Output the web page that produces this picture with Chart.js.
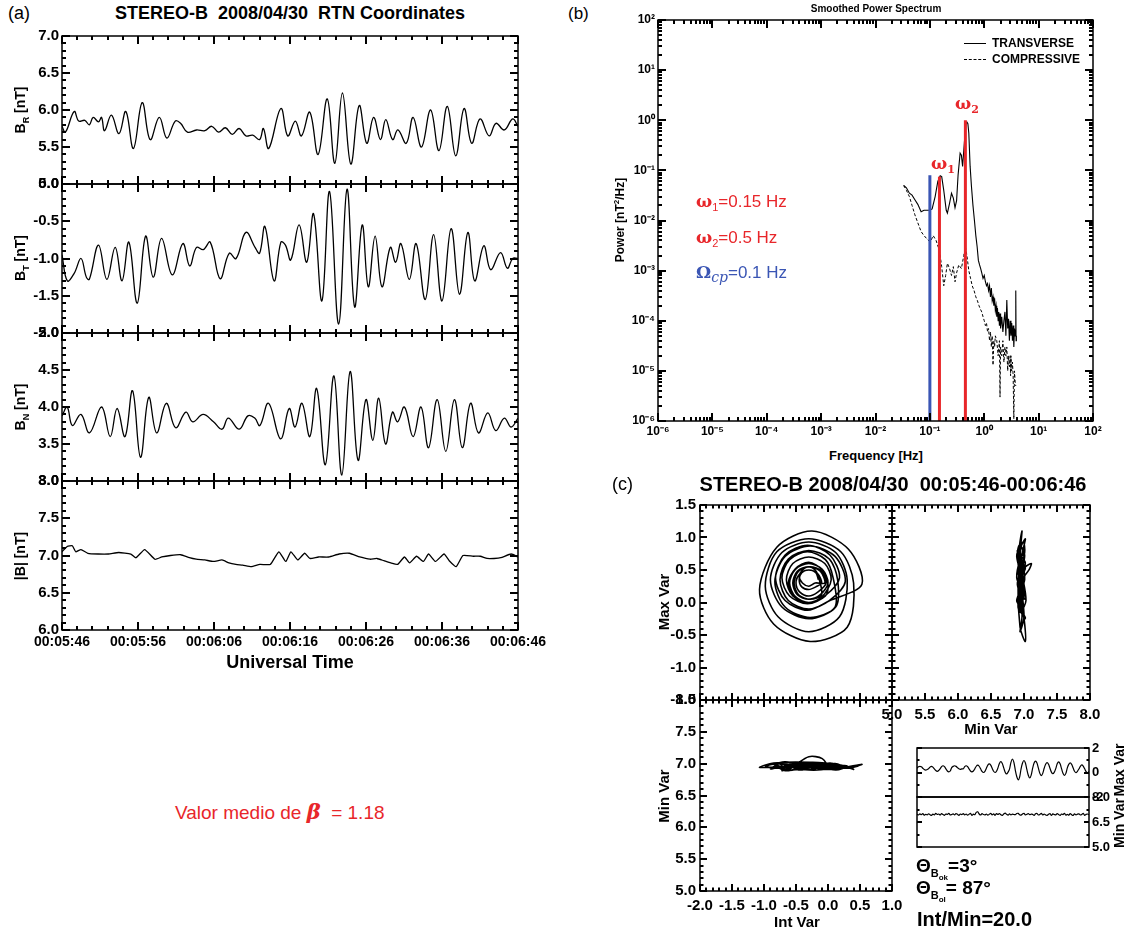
<!DOCTYPE html>
<html>
<head>
<meta charset="utf-8">
<script src="https://cdn.jsdelivr.net/npm/chart.js@4.4.1/dist/chart.umd.min.js"></script>
<style>
  body { margin: 0; background: #fff; }
  #page { position: relative; width: 1128px; height: 932px; overflow: hidden; background: #fff; font-family: "Liberation Sans", Arial, Helvetica, sans-serif; color: #000; }
  canvas { position: absolute; }
  .t { position: absolute; white-space: nowrap; transform: translate(-50%, -50%); line-height: 1; }
  .l { position: absolute; white-space: nowrap; transform: translate(0, -50%); line-height: 1; }
  .r { position: absolute; white-space: nowrap; transform: translate(-50%, -50%) rotate(-90deg); line-height: 1; font-weight: bold; }
  .b { font-weight: bold; }
  sub, sup { line-height: 0; }
</style>
</head>
<body>
<div id="page">
  <canvas id="cBR"></canvas>
  <canvas id="cBT"></canvas>
  <canvas id="cBN"></canvas>
  <canvas id="cB"></canvas>
  <canvas id="cPSD"></canvas>
  <canvas id="cTL"></canvas>
  <canvas id="cTR"></canvas>
  <canvas id="cBL"></canvas>
  <canvas id="cInMax"></canvas>
  <canvas id="cInMin"></canvas>

  <!-- (a) -->
  <div class="l" style="left:8px;top:13px;font-size:18px;">(a)</div>
  <div class="t b" style="left:290px;top:13px;font-size:18px;">STEREO-B&nbsp; 2008/04/30&nbsp; RTN Coordinates</div>
  <div class="r" style="left:20px;top:110px;font-size:14px;">B<sub style="font-size:9px">R</sub> [nT]</div>
  <div class="r" style="left:20px;top:258px;font-size:14px;">B<sub style="font-size:9px">T</sub> [nT]</div>
  <div class="r" style="left:20px;top:407px;font-size:14px;">B<sub style="font-size:9px">N</sub> [nT]</div>
  <div class="r" style="left:20px;top:556px;font-size:14px;">|B| [nT]</div>
  <div class="t b" style="left:290px;top:662px;font-size:18px;">Universal Time</div>
  <div class="l" style="left:175px;top:811px;font-size:19px;color:#e8262a;">Valor medio de <b style="font-family:'DejaVu Serif',serif;font-style:italic;font-size:21px;">β</b>&nbsp; = 1.18</div>

  <!-- (b) -->
  <div class="l" style="left:568px;top:13px;font-size:17px;">(b)</div>
  <div class="t b" style="left:876px;top:9px;font-size:10px;">Smoothed Power Spectrum</div>
  <div class="r" style="left:620px;top:220px;font-size:12px;">Power [nT<sup style="font-size:8px">2</sup>/Hz]</div>
  <div class="t b" style="left:876px;top:455px;font-size:13px;">Frequency [Hz]</div>
  <div style="position:absolute;left:964px;top:43px;width:22px;border-top:1px solid #000;"></div>
  <div class="l b" style="left:992px;top:43px;font-size:12px;">TRANSVERSE</div>
  <div style="position:absolute;left:964px;top:59px;width:22px;border-top:1px dashed #000;"></div>
  <div class="l b" style="left:992px;top:59px;font-size:12px;">COMPRESSIVE</div>
  <div class="t b" style="left:943px;top:163px;font-size:17px;color:#e8262a;font-family:'DejaVu Serif',serif;">ω<sub style="font-size:11px">1</sub></div>
  <div class="t b" style="left:967px;top:103px;font-size:17px;color:#e8262a;font-family:'DejaVu Serif',serif;">ω<sub style="font-size:11px">2</sub></div>
  <div class="l" style="left:696px;top:201px;font-size:17px;color:#e8262a;"><b style="font-family:'DejaVu Serif',serif;">ω</b><sub style="font-size:11px">1</sub>=0.15 Hz</div>
  <div class="l" style="left:696px;top:237px;font-size:17px;color:#e8262a;"><b style="font-family:'DejaVu Serif',serif;">ω</b><sub style="font-size:11px">2</sub>=0.5 Hz</div>
  <div class="l" style="left:696px;top:272px;font-size:17px;color:#3a55b4;"><b style="font-family:'DejaVu Serif',serif;">Ω</b><i style="font-family:'DejaVu Serif',serif;font-size:14px;position:relative;top:4px;">cp</i>=0.1 Hz</div>

  <!-- (c) -->
  <div class="l" style="left:612px;top:484px;font-size:18px;">(c)</div>
  <div class="t b" style="left:893px;top:484px;font-size:20px;">STEREO-B 2008/04/30&nbsp; 00:05:46-00:06:46</div>
  <div class="r" style="left:663px;top:602px;font-size:15px;">Max Var</div>
  <div class="r" style="left:663px;top:796px;font-size:15px;">Min Var</div>
  <div class="t b" style="left:797px;top:921px;font-size:15px;">Int Var</div>
  <div class="t b" style="left:991px;top:728px;font-size:15px;">Min Var</div>
  <div class="r" style="left:1119px;top:770px;font-size:14px;">Max Var</div>
  <div class="r" style="left:1119px;top:823px;font-size:14px;">Min Var</div>
  <div class="l b" style="left:916px;top:867px;font-size:19px;">Θ<sub style="font-size:11px">B<sub style="font-size:8px">ok</sub></sub>=3°</div>
  <div class="l b" style="left:916px;top:889px;font-size:19px;">Θ<sub style="font-size:11px">B<sub style="font-size:8px">ol</sub></sub>= 87°</div>
  <div class="l b" style="left:917px;top:919px;font-size:20px;">Int/Min=20.0</div>
</div>

<script>
// ---- panel (a): time in seconds after 00:05:46, field in nT ----
const tBR = [0, 0.45, 1.6, 2.2, 3.0, 3.6, 4.1, 4.8, 5.2, 5.6, 6.5, 7.5, 8.4, 9.4, 10.55, 11.6, 12.8, 13.8, 14.9, 15.6, 16.5, 17.7, 18.8, 19.7, 20.6, 21.5, 22.4, 23.3, 24.2, 25.1, 26.0, 26.5, 27.2, 28.8, 29.7, 30.7, 31.5, 32.6, 33.7, 34.9, 35.9, 36.9, 38.0, 39.1, 40.1, 41.0, 41.9, 42.6, 43.5, 44.2, 45.3, 46.2, 47.3, 48.5, 49.6, 50.7, 51.8, 52.9, 53.9, 55.0, 56.2, 57.1, 58.2, 59.3, 60];
const vBR = [5.78, 5.70, 5.98, 5.85, 5.86, 5.80, 5.90, 5.84, 5.90, 5.72, 5.93, 5.68, 5.98, 5.48, 6.10, 5.60, 5.90, 5.62, 5.85, 5.82, 5.70, 5.73, 5.72, 5.78, 5.70, 5.76, 5.67, 5.75, 5.65, 5.66, 5.60, 5.75, 5.48, 6.02, 5.65, 5.85, 5.65, 5.97, 5.40, 6.15, 5.28, 6.23, 5.27, 6.06, 5.55, 5.90, 5.60, 5.87, 5.60, 5.73, 5.55, 5.90, 5.50, 6.00, 5.45, 6.05, 5.38, 6.02, 5.55, 5.88, 5.65, 5.82, 5.73, 5.88, 5.78];

const tBT = [0, 0.7, 1.6, 2.5, 3.2, 3.6, 4.8, 5.9, 7.0, 7.9, 8.8, 9.9, 11.0, 12.0, 13.1, 14.5, 15.9, 16.8, 17.7, 18.6, 19.5, 20.8, 22.0, 22.9, 24.2, 25.4, 26.0, 26.7, 27.9, 28.8, 29.4, 30.1, 31.2, 32.2, 33.1, 34.2, 35.2, 36.4, 37.5, 38.5, 39.5, 40.3, 41.2, 42.1, 43.2, 43.9, 44.6, 45.7, 46.6, 47.8, 48.9, 50.0, 51.2, 52.3, 53.4, 54.3, 55.5, 56.4, 57.7, 58.6, 59.3, 60];
const vBT = [-0.95, -1.30, -1.20, -1.00, -1.25, -1.28, -0.82, -1.28, -0.85, -1.30, -0.78, -1.60, -0.70, -1.25, -0.73, -1.22, -0.80, -1.10, -0.85, -0.88, -0.78, -1.27, -0.93, -1.00, -0.65, -0.85, -0.93, -0.57, -1.30, -0.78, -0.82, -1.02, -0.55, -1.05, -0.40, -1.57, -0.10, -1.88, -0.07, -1.65, -0.55, -1.38, -0.70, -1.38, -0.85, -1.05, -0.80, -1.28, -0.80, -1.55, -0.68, -1.57, -0.60, -1.48, -0.65, -1.30, -0.83, -1.15, -0.92, -1.13, -1.00, -1.00];

const tBN = [0, 0.68, 1.36, 2.49, 3.62, 5.21, 6.34, 7.25, 8.29, 9.28, 10.33, 11.41, 12.45, 13.72, 14.95, 16.30, 17.21, 18.57, 19.93, 21.06, 21.88, 23.32, 24.46, 25.36, 26.04, 27.17, 28.76, 29.89, 30.66, 31.57, 32.61, 33.51, 34.65, 35.78, 36.82, 37.91, 38.95, 39.99, 40.90, 41.67, 42.57, 43.48, 44.16, 45.06, 46.20, 47.24, 48.23, 49.37, 50.50, 51.63, 52.67, 53.76, 54.80, 56.02, 57.07, 58.20, 59.10, 60];
const vBN = [3.88, 4.00, 3.75, 3.90, 3.65, 4.00, 3.60, 3.98, 3.60, 4.22, 3.32, 4.13, 3.65, 4.05, 3.72, 3.93, 3.80, 3.90, 3.80, 3.70, 3.85, 3.70, 3.88, 3.85, 3.75, 4.05, 3.57, 3.98, 3.73, 4.05, 3.60, 4.25, 3.22, 4.42, 3.08, 4.48, 3.28, 4.10, 3.55, 4.12, 3.50, 3.93, 3.80, 4.00, 3.60, 4.00, 3.45, 4.10, 3.40, 4.10, 3.45, 4.05, 3.65, 3.92, 3.68, 3.85, 3.73, 3.85];

const tB = [0, 0.68, 1.36, 1.81, 2.49, 3.40, 4.76, 6.11, 7.47, 9.06, 9.74, 10.87, 12.23, 13.13, 14.27, 15.63, 16.76, 17.66, 18.80, 19.93, 21.06, 21.97, 22.88, 23.78, 24.91, 26.04, 27.40, 28.53, 29.44, 30.12, 31.02, 31.93, 32.61, 33.74, 35.10, 36.46, 37.82, 39.18, 40.53, 41.44, 42.35, 43.25, 44.16, 45.06, 45.74, 46.65, 47.55, 48.23, 49.14, 50.27, 50.95, 51.86, 52.76, 54.12, 55.03, 55.93, 56.84, 57.74, 59.10, 60];
const vB = [7.05, 7.12, 7.13, 7.05, 7.08, 7.03, 7.02, 7.02, 7.04, 7.02, 6.97, 7.08, 6.95, 6.98, 7.00, 7.01, 6.97, 6.95, 6.94, 6.92, 6.94, 6.90, 6.88, 6.87, 6.85, 6.88, 6.88, 7.05, 6.92, 7.05, 6.94, 7.03, 6.96, 6.98, 6.98, 7.02, 7.03, 6.98, 6.95, 6.96, 6.93, 6.90, 6.88, 6.98, 6.90, 6.99, 6.92, 7.02, 6.92, 7.02, 6.93, 6.85, 7.00, 6.99, 6.99, 6.96, 6.96, 6.97, 7.02, 6.98];

// ---- panel (b): smoothed power spectra ----
const decades = [1e-6, 1e-5, 1e-4, 1e-3, 1e-2, 1e-1, 1e0, 1e1, 1e2];
const fTrans = [0.033, 0.037, 0.042, 0.047, 0.053, 0.06, 0.069, 0.078, 0.09, 0.1, 0.11, 0.125, 0.14, 0.155, 0.165, 0.18, 0.2, 0.21, 0.23, 0.25, 0.27, 0.29, 0.31, 0.33, 0.36, 0.38, 0.4, 0.43, 0.46, 0.48, 0.5, 0.52, 0.55, 0.58, 0.62, 0.66, 0.7, 0.74, 0.78, 0.82, 0.86, 0.9, 0.95, 1.0, 1.05, 1.1, 1.15, 1.2, 1.25, 1.3, 1.35, 1.4, 1.45, 1.5, 1.55, 1.6, 1.65, 1.7, 1.75, 1.8, 1.85, 1.9, 1.95, 2.0, 2.1, 2.2, 2.3, 2.4, 2.5, 2.6, 2.7, 2.8, 2.9, 3.0, 3.1, 3.2, 3.3, 3.4, 3.5, 3.6, 3.7, 3.8, 3.85, 3.9];
const pTrans = [0.05, 0.045, 0.035, 0.032, 0.026, 0.021, 0.015, 0.016, 0.016, 0.016, 0.017, 0.03, 0.06, 0.078, 0.075, 0.04, 0.016, 0.014, 0.022, 0.035, 0.028, 0.018, 0.025, 0.08, 0.22, 0.20, 0.12, 0.35, 0.85, 0.92, 0.85, 0.55, 0.12, 0.05, 0.02, 0.01, 0.005, 0.003, 0.0016, 0.0013, 0.0011, 0.0009, 0.0007, 0.0008, 0.0006, 0.0005, 0.00055, 0.0004, 0.0005, 0.0003, 0.00045, 0.00025, 0.0003, 0.0002, 0.00028, 0.00016, 0.0002, 0.00012, 0.00018, 0.0001, 0.00015, 0.00008, 0.00014, 0.00007, 0.00012, 0.00006, 0.0001, 0.00015, 0.00005, 0.00026, 0.00007, 0.00011, 0.00004, 0.0001, 0.00005, 0.00009, 0.00004, 0.00008, 0.00003, 0.00007, 0.00005, 0.0004, 0.00004, 0.00005];
const fComp = [0.033, 0.037, 0.042, 0.047, 0.053, 0.06, 0.069, 0.078, 0.09, 0.1, 0.105, 0.115, 0.13, 0.15, 0.165, 0.18, 0.195, 0.21, 0.23, 0.25, 0.27, 0.29, 0.31, 0.34, 0.38, 0.42, 0.45, 0.48, 0.52, 0.56, 0.6, 0.65, 0.7, 0.75, 0.8, 0.85, 0.9, 0.95, 1.0, 1.05, 1.1, 1.15, 1.2, 1.25, 1.3, 1.35, 1.4, 1.45, 1.5, 1.55, 1.6, 1.7, 1.8, 1.9, 1.95, 2.0, 2.1, 2.2, 2.3, 2.4, 2.5, 2.6, 2.7, 2.8, 2.9, 3.0, 3.05, 3.1, 3.2, 3.3, 3.4, 3.5, 3.6, 3.7, 3.8];
const pComp = [0.05, 0.04, 0.03, 0.02, 0.013, 0.009, 0.006, 0.005, 0.0042, 0.0038, 0.004, 0.005, 0.004, 0.0025, 0.0012, 0.0005, 0.0008, 0.0014, 0.0011, 0.0008, 0.0012, 0.0006, 0.0009, 0.0013, 0.0011, 0.002, 0.003, 0.002, 0.001, 0.0007, 0.0005, 0.0004, 0.0003, 0.00025, 0.0002, 0.00017, 0.00015, 0.00012, 0.0001, 0.00008, 0.00009, 0.00006, 0.00007, 0.00004, 0.00006, 0.00003, 0.00005, 0.000013, 0.00004, 0.00003, 0.00005, 0.00004, 0.00002, 0.00004, 0.000003, 0.00003, 0.00002, 0.00004, 0.000015, 0.00003, 0.00002, 0.00003, 0.00001, 0.00002, 0.000012, 0.00002, 0.000008, 0.00002, 0.00001, 0.000015, 0.000008, 0.0000011, 0.00001, 0.000006, 0.000005];
// marker lines: cyclotron (blue), omega1, omega2 (red)
const markFreq = [0.1, 0.15, 0.45];
const markTop = [0.08, 0.075, 1.0];

// ---- panel (c): minimum variance hodogram samples ----
const intVar = [
  -0.15, -0.19, -0.30, -0.41, -0.45, -0.41, -0.30, -0.19,
  -0.10, -0.16, -0.30, -0.44, -0.50, -0.44, -0.30, -0.16,
  -0.03, -0.10, -0.28, -0.46, -0.53, -0.46, -0.28, -0.10,
  -0.15, -0.20, -0.30, -0.40, -0.45, -0.40, -0.30, -0.20,
  -0.05, -0.12, -0.30, -0.48, -0.55, -0.48, -0.30, -0.12,
  0.00, -0.09, -0.30, -0.51, -0.60, -0.51, -0.30, -0.09,
  0.05, -0.05, -0.30, -0.55, -0.65, -0.55, -0.30, -0.05,
  0.18, 0.03, -0.32, -0.67, -0.82, -0.67, -0.32, 0.03,
  0.53, 0.32, -0.25, -0.80, -1.07, -0.85, -0.28, 0.30,
  0.40, 0.20, -0.30, -0.80, -0.98, -0.78, -0.30, 0.18,
  0.30, 0.12, -0.30, -0.72, -0.90, -0.72, -0.30, 0.12,
  0.15, 0.02, -0.30, -0.62, -0.75, -0.62, -0.30, 0.02,
  0.27, 0.11, -0.28, -0.67, -0.83, -0.67, -0.28, 0.11,
  0.08, -0.04, -0.32, -0.60, -0.72, -0.60, -0.32, -0.04,
  0.00, -0.09, -0.30, -0.51, -0.62, -0.52, -0.30, -0.08
];
const maxVar = [
  0.35, 0.46, 0.50, 0.46, 0.35, 0.24, 0.20, 0.24,
  0.30, 0.44, 0.50, 0.44, 0.30, 0.16, 0.10, 0.16,
  0.30, 0.48, 0.55, 0.48, 0.30, 0.12, 0.05, 0.12,
  0.40, 0.50, 0.55, 0.50, 0.40, 0.30, 0.25, 0.30,
  0.30, 0.48, 0.55, 0.48, 0.30, 0.12, 0.05, 0.12,
  0.30, 0.51, 0.60, 0.51, 0.30, 0.09, 0.00, 0.09,
  0.35, 0.60, 0.70, 0.60, 0.35, 0.10, 0.00, 0.10,
  0.38, 0.73, 0.88, 0.73, 0.38, 0.03, -0.12, 0.03,
  0.28, 0.82, 1.10, 0.85, 0.20, -0.33, -0.60, -0.38,
  0.30, 0.78, 0.98, 0.78, 0.25, -0.22, -0.45, -0.22,
  0.35, 0.77, 0.93, 0.77, 0.35, -0.07, -0.25, -0.07,
  0.35, 0.67, 0.80, 0.67, 0.35, 0.03, -0.10, 0.03,
  0.32, 0.71, 0.87, 0.71, 0.32, -0.07, -0.23, -0.07,
  0.38, 0.66, 0.78, 0.66, 0.38, 0.10, -0.02, 0.10,
  0.28, 0.50, 0.62, 0.52, 0.30, 0.08, -0.02, 0.08
];
const minVar = [
  6.97, 6.92, 6.99, 6.94, 7.01, 6.91, 6.96, 6.93,
  6.99, 6.94, 6.90, 6.97, 6.93, 7.02, 6.95, 6.98,
  6.92, 7.00, 6.95, 6.90, 6.98, 6.96, 7.02, 6.93,
  6.95, 6.99, 6.92, 7.01, 6.96, 6.90, 6.98, 6.94,
  7.00, 6.93, 6.98, 6.91, 6.96, 7.02, 6.90, 6.97,
  6.94, 7.08, 7.11, 6.98, 6.92, 7.00, 6.95, 6.93,
  6.98, 6.91, 6.96, 7.02, 6.93, 6.99, 6.90, 7.00,
  6.95, 7.01, 6.93, 6.90, 6.98, 7.03, 6.96, 6.91,
  6.99, 6.93, 6.97, 6.95, 6.94, 7.01, 7.02, 6.94,
  6.91, 6.98, 7.02, 6.93, 6.96, 7.00, 6.94, 6.97,
  6.96, 6.90, 6.99, 7.01, 6.92, 6.95, 7.02, 6.93,
  6.98, 6.92, 6.90, 6.96, 7.01, 6.89, 6.99, 6.95,
  6.93, 7.00, 6.95, 6.89, 6.98, 6.94, 7.02, 6.91,
  6.96, 6.91, 7.01, 6.94, 6.89, 6.99, 6.93, 6.97,
  6.99, 6.92, 6.95, 7.02, 6.90, 6.96, 6.98, 6.93
];

Chart.defaults.font.family = '"Liberation Sans", Arial, Helvetica, sans-serif';
Chart.defaults.color = '#000';
Chart.defaults.animation = false;
Chart.defaults.responsive = false;
Chart.defaults.devicePixelRatio = 1;
Chart.defaults.plugins.legend.display = false;
Chart.defaults.plugins.tooltip.enabled = false;
Chart.defaults.elements.point.radius = 0;

// tick settings per canvas, read by the frame plugin
const tickSpec = {};

function tickValues(s, spec) {
  const out = [];
  if (spec.log) {
    const e0 = Math.round(Math.log10(s.min)), e1 = Math.round(Math.log10(s.max));
    for (let e = e0; e < e1; e++) {
      for (let m = 1; m < 10; m++) out.push([m * Math.pow(10, e), m === 1]);
    }
    out.push([s.max, true]);
    return out;
  }
  const n = Math.round((s.max - s.min) / spec.minor);
  for (let i = 0; i <= n; i++) {
    const v = s.min + i * spec.minor;
    const q = (i * spec.minor) / spec.major;
    out.push([v, Math.abs(q - Math.round(q)) < 1e-6]);
  }
  return out;
}

// IDL style frame: box plus inward major / minor ticks
const idlTicks = {
  id: 'idlTicks',
  afterDraw(chart) {
    const o = tickSpec[chart.canvas.id];
    if (!o) return;
    const ctx = chart.ctx, a = chart.chartArea;
    const top = Math.round(a.top), bottom = Math.round(a.bottom);
    const left = Math.round(a.left), right = Math.round(a.right);
    ctx.save();
    ctx.fillStyle = '#000';
    if (o.x) {
      const sx = chart.scales.x;
      const tv = tickValues(sx, o.x);
      tv.forEach(m => {
        const p = Math.round(sx.getPixelForValue(m[0]));
        const len = m[1] ? o.x.len : o.x.len / 2;
        ctx.fillRect(p - 1, bottom - len, 2, len);
        ctx.fillRect(p - 1, top, 2, len);
      });
    }
    if (o.y) {
      const sy = chart.scales.y;
      const tv = tickValues(sy, o.y);
      tv.forEach(m => {
        const p = Math.round(sy.getPixelForValue(m[0]));
        const len = m[1] ? o.y.len : o.y.len / 2;
        if (!o.y.noLeft) ctx.fillRect(left, p - 1, len, 2);
        ctx.fillRect(right - len, p - 1, len, 2);
      });
    }
    ctx.strokeStyle = '#000';
    ctx.lineWidth = 1.5;
    ctx.strokeRect(a.left, a.top, a.right - a.left, a.bottom - a.top);
    ctx.restore();
  }
};
Chart.register(idlTicks);

function place(id, left, top, w, h) {
  const c = document.getElementById(id);
  c.width = w; c.height = h;
  c.style.left = left + 'px'; c.style.top = top + 'px';
  return c;
}
function yFix(w) { return s => { s.width = w; s.paddingTop = 0; s.paddingBottom = 0; }; }
function xFix(h) { return s => { s.height = h; s.paddingLeft = 0; s.paddingRight = 0; }; }
function pts(xs, ys) { return xs.map((x, i) => ({ x: x, y: ys[i] })); }
const noGrid = { display: false, drawTicks: false };
const noBorder = { display: false };

function timeLabel(v) {
  const s = 5 * 60 + 46 + v;
  const mm = Math.floor(s / 60), ss = Math.round(s % 60);
  return '00:' + String(mm).padStart(2, '0') + ':' + String(ss).padStart(2, '0');
}

// ---------- (a) four stacked panels ----------
const aRows = [
  { id: 'cBR', t: tBR, v: vBR, min: 5, max: 7, top: 36, bot: 184, tension: 0.4 },
  { id: 'cBT', t: tBT, v: vBT, min: -2, max: 0, top: 184, bot: 333, tension: 0.4 },
  { id: 'cBN', t: tBN, v: vBN, min: 3, max: 5, top: 333, bot: 481, tension: 0.4 },
  { id: 'cB', t: tB, v: vB, min: 6, max: 8, top: 481, bot: 630, tension: 0.15, last: true }
];
aRows.forEach(r => {
  const h = (r.bot - r.top) + 24 + (r.last ? 22 : 0);
  tickSpec[r.id] = { x: { major: 10, minor: 2, len: 8 }, y: { major: 0.5, minor: 0.1, len: 8 } };
  const xScale = r.last ? {
    type: 'linear', min: 0, max: 60,
    grid: noGrid, border: noBorder,
    afterFit: xFix(22),
    afterBuildTicks: s => { s.ticks = [0, 10, 20, 30, 40, 50, 60].map(v => ({ value: v })); },
    ticks: { callback: timeLabel, maxRotation: 0, autoSkip: false, padding: 4, font: { size: 14, weight: 'bold' } }
  } : { type: 'linear', min: 0, max: 60, display: false };
  new Chart(place(r.id, 0, r.top - 12, 560, h), {
    type: 'line',
    data: { datasets: [{ data: pts(r.t, r.v), borderColor: '#000', borderWidth: 1.3, tension: r.tension, fill: false }] },
    options: {
      layout: { autoPadding: false, padding: { left: 0, right: 42, top: 12, bottom: 12 } },
      scales: {
        x: xScale,
        y: {
          min: r.min, max: r.max,
          grid: noGrid, border: noBorder,
          afterFit: yFix(62),
          ticks: { stepSize: 0.5, padding: 3, callback: v => v.toFixed(1), font: { size: 15, weight: 'bold' } }
        }
      }
    }
  });
});

// ---------- (b) power spectrum ----------
const supMap = { '-': '⁻', '0': '⁰', '1': '¹', '2': '²', '3': '³', '4': '⁴', '5': '⁵', '6': '⁶', '7': '⁷', '8': '⁸', '9': '⁹' };
function decadeLabel(v) {
  const e = Math.round(Math.log10(v));
  return '10' + String(e).split('').map(c => supMap[c]).join('');
}
const markColors = ['#3a55b4', '#e8262a', '#e8262a'];
const markSets = markFreq.map((f, i) => ({
  data: [{ x: f, y: 1e-6 }, { x: f, y: markTop[i] }],
  borderColor: markColors[i], borderWidth: 3, tension: 0
}));
tickSpec.cPSD = { x: { log: true, len: 8 }, y: { log: true, len: 8 } };
new Chart(place('cPSD', 600, 8, 513, 437), {
  type: 'line',
  data: {
    datasets: markSets.concat([
      { data: pts(fComp, pComp), borderColor: '#000', borderWidth: 1, borderDash: [3, 2], tension: 0 },
      { data: pts(fTrans, pTrans), borderColor: '#000', borderWidth: 1.1, tension: 0 }
    ])
  },
  options: {
    layout: { autoPadding: false, padding: { left: 0, right: 20, top: 12, bottom: 6 } },
    scales: {
      x: {
        type: 'logarithmic', min: 1e-6, max: 1e2,
        grid: noGrid, border: noBorder,
        afterFit: xFix(18),
        afterBuildTicks: s => { s.ticks = decades.map(v => ({ value: v })); },
        ticks: { callback: decadeLabel, maxRotation: 0, autoSkip: false, padding: 3, font: { size: 12, weight: 'bold' } }
      },
      y: {
        type: 'logarithmic', min: 1e-6, max: 1e2,
        grid: noGrid, border: noBorder,
        afterFit: yFix(58),
        afterBuildTicks: s => { s.ticks = decades.map(v => ({ value: v })); },
        ticks: { callback: decadeLabel, autoSkip: false, padding: 3, font: { size: 12, weight: 'bold' } }
      }
    }
  }
});

// ---------- (c) hodograms ----------
const lineStyle = { borderColor: '#000', borderWidth: 1.6, tension: 0.3, showLine: true, fill: false };
const tickFont = { size: 15, weight: 'bold' };

tickSpec.cTL = { x: { major: 0.5, minor: 0.1, len: 7 }, y: { major: 0.5, minor: 0.1, len: 7 } };
new Chart(place('cTL', 640, 493, 262, 219), {
  type: 'scatter',
  data: { datasets: [Object.assign({ data: pts(intVar, maxVar) }, lineStyle)] },
  options: {
    layout: { autoPadding: false, padding: { left: 0, right: 10, top: 12, bottom: 12 } },
    scales: {
      x: { type: 'linear', min: -2, max: 1, display: false },
      y: { min: -1.5, max: 1.5, grid: noGrid, border: noBorder, afterFit: yFix(60),
           ticks: { stepSize: 0.5, padding: 4, callback: v => v.toFixed(1), font: tickFont } }
    }
  }
});

tickSpec.cTR = { x: { major: 0.5, minor: 0.1, len: 7 }, y: { major: 0.5, minor: 0.1, len: 7 } };
new Chart(place('cTR', 868, 493, 236, 233), {
  type: 'scatter',
  data: { datasets: [Object.assign({ data: pts(minVar, maxVar) }, lineStyle)] },
  options: {
    layout: { autoPadding: false, padding: { left: 24, right: 14, top: 12, bottom: 4 } },
    scales: {
      x: { type: 'linear', min: 5, max: 8, grid: noGrid, border: noBorder, afterFit: xFix(22),
           ticks: { stepSize: 0.5, padding: 6, maxRotation: 0, autoSkip: false, callback: v => v.toFixed(1), font: tickFont } },
      y: { min: -1.5, max: 1.5, display: false }
    }
  }
});

tickSpec.cBL = { x: { major: 0.5, minor: 0.1, len: 7 }, y: { major: 0.5, minor: 0.1, len: 7 } };
new Chart(place('cBL', 640, 688, 268, 229), {
  type: 'scatter',
  data: { datasets: [Object.assign({ data: pts(intVar, minVar) }, lineStyle)] },
  options: {
    layout: { autoPadding: false, padding: { left: 0, right: 16, top: 12, bottom: 4 } },
    scales: {
      x: { type: 'linear', min: -2, max: 1, grid: noGrid, border: noBorder, afterFit: xFix(22),
           ticks: { stepSize: 0.5, padding: 6, maxRotation: 0, autoSkip: false, callback: v => v.toFixed(1), font: tickFont } },
      y: { min: 5, max: 8, grid: noGrid, border: noBorder, afterFit: yFix(60),
           ticks: { stepSize: 0.5, padding: 4, callback: v => v.toFixed(1), font: tickFont } }
    }
  }
});

// inset: the same samples against sample number
const sampleNo = maxVar.map((v, i) => i);
function insetChart(id, top, h, ys, min, max, step, fmt, padTop, padBot) {
  tickSpec[id] = { y: { major: step, minor: step / 2, len: 5 } };
  new Chart(place(id, 907, top, 206, h), {
    type: 'line',
    data: { datasets: [{ data: pts(sampleNo, ys), borderColor: '#000', borderWidth: 1.2, tension: 0.3 }] },
    options: {
      layout: { autoPadding: false, padding: { left: 10, right: 0, top: padTop, bottom: padBot } },
      scales: {
        x: { type: 'linear', min: 0, max: sampleNo.length - 1, display: false },
        y: { position: 'right', min: min, max: max, grid: noGrid, border: noBorder, afterFit: yFix(24),
             ticks: { stepSize: step, padding: 3, callback: fmt, font: { size: 13, weight: 'bold' } } }
      }
    }
  });
}
insetChart('cInMax', 738, 65, maxVar, -2, 2, 2, v => String(v), 10, 6);
insetChart('cInMin', 787, 68, minVar, 5, 8, 1.5, v => v.toFixed(1), 10, 8);
</script>
</body>
</html>
